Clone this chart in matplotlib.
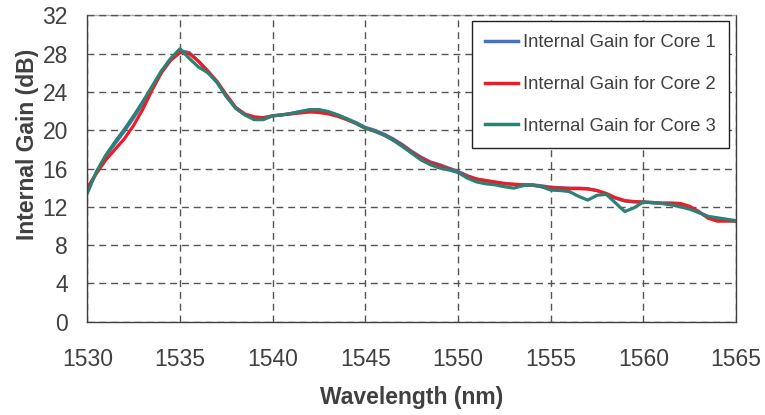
import matplotlib
matplotlib.use("Agg")
import matplotlib.pyplot as plt
import numpy as np

plt.rcParams['font.family'] = ['Liberation Sans', 'DejaVu Sans']

wavelength = [1530.0, 1530.5, 1531.0, 1531.5, 1532.0, 1532.5, 1533.0, 1533.5, 1534.0, 1534.5,
              1535.0, 1535.5, 1536.0, 1536.5, 1537.0, 1537.5, 1538.0, 1538.5, 1539.0, 1539.5,
              1540.0, 1540.5, 1541.0, 1541.5, 1542.0, 1542.5, 1543.0, 1543.5, 1544.0, 1544.5,
              1545.0, 1545.5, 1546.0, 1546.5, 1547.0, 1547.5, 1548.0, 1548.5, 1549.0, 1549.5,
              1550.0, 1550.5, 1551.0, 1551.5, 1552.0, 1552.5, 1553.0, 1553.5, 1554.0, 1554.5,
              1555.0, 1555.5, 1556.0, 1556.5, 1557.0, 1557.5, 1558.0, 1558.5, 1559.0, 1559.5,
              1560.0, 1560.5, 1561.0, 1561.5, 1562.0, 1562.5, 1563.0, 1563.5, 1564.0, 1564.5,
              1565.0]

core1 = [13.8, 15.6, 17.3, 18.6, 19.9, 21.3, 22.8, 24.5, 26.1, 27.4,
         28.3, 28.1, 27.2, 26.1, 25.0, 23.6, 22.3, 21.6, 21.3, 21.3,
         21.5, 21.6, 21.75, 21.95, 22.1, 22.1, 21.9, 21.6, 21.2, 20.8,
         20.3, 20.0, 19.6, 19.1, 18.5, 17.8, 17.2, 16.7, 16.4, 16.05,
         15.7, 15.25, 14.9, 14.7, 14.55, 14.4, 14.35, 14.3, 14.3, 14.2,
         14.05, 14.0, 13.95, 13.95, 13.9, 13.7, 13.3, 12.9, 12.6, 12.5,
         12.5, 12.4, 12.35, 12.3, 12.2, 11.9, 11.4, 10.95, 10.75, 10.65,
         10.5]

core2 = [14.0, 15.5, 16.9, 18.0, 19.1, 20.5, 22.2, 24.2, 26.0, 27.3,
         28.1, 28.0, 27.2, 26.2, 25.1, 23.7, 22.4, 21.7, 21.4, 21.3,
         21.5, 21.6, 21.7, 21.8, 21.9, 21.85, 21.7, 21.45, 21.1, 20.7,
         20.2, 19.9, 19.5, 19.0, 18.4, 17.7, 17.1, 16.6, 16.3, 15.95,
         15.6, 15.2, 14.9, 14.75, 14.6, 14.45, 14.35, 14.3, 14.25, 14.1,
         14.0, 13.95, 13.9, 13.9, 13.85, 13.7, 13.4, 12.95, 12.65, 12.55,
         12.5, 12.45, 12.4, 12.4, 12.35, 12.05, 11.5, 10.8, 10.5, 10.5,
         10.5]

core3 = [13.4, 15.7, 17.4, 18.8, 20.1, 21.5, 23.0, 24.6, 26.2, 27.5,
         28.5, 27.5, 26.6, 26.0, 25.0, 23.5, 22.3, 21.6, 21.1, 21.1,
         21.5, 21.6, 21.75, 21.95, 22.15, 22.15, 21.95, 21.6, 21.2, 20.7,
         20.2, 19.9, 19.5, 18.95, 18.3, 17.6, 16.9, 16.4, 16.05, 15.85,
         15.6, 15.0, 14.6, 14.4, 14.3, 14.1, 13.95, 14.2, 14.3, 14.1,
         13.75, 13.7, 13.6, 13.1, 12.7, 13.2, 13.3, 12.4, 11.5, 11.9,
         12.5, 12.45, 12.35, 12.2, 12.0, 11.75, 11.4, 11.0, 10.85, 10.7,
         10.55]

labels = ['Internal Gain for Core 1', 'Internal Gain for Core 2', 'Internal Gain for Core 3']
colors = ['#4472C4', '#EE1C25', '#2E8075']
x_ticks = [1530, 1535, 1540, 1545, 1550, 1555, 1560, 1565]
y_ticks = [0, 4, 8, 12, 16, 20, 24, 28, 32]

fig = plt.figure(figsize=(7.65, 4.15), dpi=100)
ax = fig.add_axes([87.3/765, 1-321.7/415, (736-87.3)/765, (321.7-15.3)/415])

for ys, lab, c in zip([core1, core2, core3], labels, colors):
    ax.plot(wavelength, ys, color=c, lw=2.3, label=lab, solid_joinstyle='round')

ax.set_xlim(1530, 1565)
ax.set_ylim(0, 32)
ax.set_xticks(x_ticks)
ax.set_yticks(y_ticks)
ax.grid(True, color='#555555', lw=1.0, ls=(0, (5, 3.5)))
ax.set_axisbelow(True)
ax.tick_params(length=0, labelsize=16.5, colors='#404040')
ax.tick_params(axis='x', pad=19)
ax.tick_params(axis='y', pad=14)

for s in ['left', 'bottom', 'right']:
    ax.spines[s].set_color('#404040')
    ax.spines[s].set_linewidth(1.0)
ax.spines['top'].set_visible(False)
ax.axhline(32, color='#555555', lw=1.0, ls=(0, (5, 3.5)), gapcolor='#aaaaaa', clip_on=False, zorder=3)

ax.set_xlabel('Wavelength (nm)', fontsize=16.5, fontweight='bold', color='#404040')
ax.set_ylabel('Internal Gain (dB)', fontsize=16.5, fontweight='bold', color='#404040')
ax.xaxis.set_label_coords(0.5, -0.21)
ax.yaxis.set_label_coords(-0.0745, 0.58)

leg = ax.legend(loc='upper right', bbox_to_anchor=(0.989, 0.981), borderaxespad=0,
                fontsize=13.3, frameon=True, fancybox=False, framealpha=1,
                edgecolor='#222222', labelspacing=1.35, handlelength=1.75,
                handletextpad=0.3, borderpad=0.7)
leg.get_frame().set_linewidth(1.0)
for t in leg.get_texts():
    t.set_color('#404040')
for l in leg.get_lines():
    l.set_linewidth(2.5)

fig.savefig('out.png', dpi=100)
